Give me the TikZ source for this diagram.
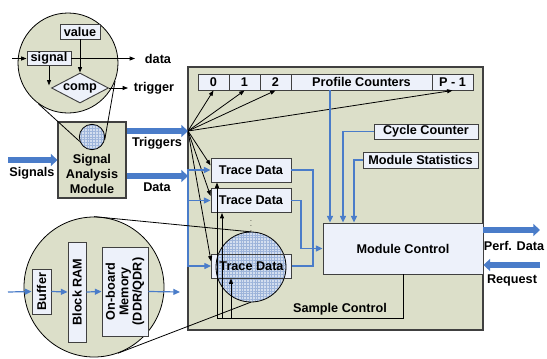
\documentclass[tikz,border=0pt]{standalone}
\usepackage{fontspec}
\setmainfont{Liberation Sans}
\usetikzlibrary{arrows.meta,shapes.geometric,patterns.meta}
\definecolor{PanelOlive}{HTML}{DCDFC9}
\definecolor{CellFill}{HTML}{EDF1FA}
\definecolor{LinkBlue}{HTML}{4A7CC9}
\definecolor{EdgeGray}{HTML}{404040}
\definecolor{MeshBlue}{HTML}{D3DEEF}
\definecolor{GridBlue}{HTML}{9DB4DA}
\tikzset{
  panel/.style={draw=EdgeGray, fill=PanelOlive, line width=0.8pt, inner sep=0pt},
  cell/.style={draw=EdgeGray, fill=CellFill, line width=0.7pt, inner sep=0.5pt},
  lens/.style={circle, draw=black, fill=PanelOlive, line width=0.6pt, inner sep=0pt},
  mesh/.style={circle, draw=black, line width=0.6pt, inner sep=0pt,
    preaction={fill=MeshBlue},
    pattern={Hatch[distance=2.1pt, line width=0.2pt]}, pattern color=GridBlue},
  bus/.style={line width=4.5pt, draw=LinkBlue, -{Triangle[length=5pt, width=9pt]}},
  link/.style={line width=0.9pt, draw=LinkBlue},
  wire/.style={link, -{Triangle[length=5pt, width=4.5pt]}},
  tick/.style={line width=0.6pt, -{Triangle[length=4pt, width=3pt]}}
}

\begin{document}
\begin{tikzpicture}[x=0.75pt, y=-0.75pt, font=\fontsize{9.5}{11}\selectfont\bfseries]
\useasboundingbox (0,0) rectangle (547,358);

\node[panel, minimum width=221.25pt, minimum height=197.25pt] (board) at (335.5,198.5) {};

\node[cell, minimum width=23.25pt, minimum height=12pt] (c0) at (213.5,82) {0};
\node[cell, minimum width=23.25pt, minimum height=12pt] (c1) at (244.5,82) {1};
\node[cell, minimum width=23.25pt, minimum height=12pt] (c2) at (275.5,82) {2};
\node[cell, minimum width=105.75pt, minimum height=12pt] (cname) at (361.5,82) {Profile Counters};
\node[cell, minimum width=30.75pt, minimum height=12pt] (cp) at (452.5,82) {P - 1};

\node[cell, minimum width=78pt, minimum height=11.25pt] (cyc) at (426,131.5) {Cycle Counter};
\node[cell, minimum width=86.25pt, minimum height=12pt] (mstat) at (420.5,160) {Module Statistics};
\node[cell, minimum width=120pt, minimum height=38.25pt] (mctl) at (403,248.5) {Module Control};

\node[cell, minimum width=60pt, minimum height=18pt] (td1) at (251,170) {Trace Data};
\node[cell, minimum width=60pt, minimum height=18pt] (td2) at (251,200.5) {Trace Data};
\node[cell, draw=none, minimum width=60pt, minimum height=18pt] (td3bg) at (251.5,266) {};
\node[mesh, minimum size=52.5pt] (zoomc) at (251,267) {};
\node[cell, fill=none, minimum width=60pt, minimum height=18pt] (td3) at (251.5,266) {Trace Data};
\node[font=\fontsize{5}{5}\selectfont, inner sep=0pt] (gap) at (251,222) {$\vdots$};

\coordinate (fan) at (188,131);
\coordinate (din) at (188,176);
\foreach \t in {c0,c1,c2,cp}
  \draw[tick] (fan) -- (\t.south);
\foreach \t in {td1,td2,td3}
  \draw[tick] (fan) -- ([yshift=3.5pt]\t.west);
\foreach \t in {td1,td2,td3}
  \draw[wire] (din) |- (\t.west);

\coordinate (j1) at (313,248.5);
\coordinate (j2) at (301,248.5);
\draw[link] (td1.east) -| (j1);
\draw[link] (td3.east) -| (j1);
\draw[wire] (td2.east) -| (j2) -- (mctl.west);

\draw[wire] ([xshift=-54.75pt]mctl.north |- cname.south) -- ([xshift=-54.75pt]mctl.north);
\draw[wire] (cyc.west) -| ([xshift=-45pt]mctl.north);
\draw[wire] (mstat.west) -| ([xshift=-36.75pt]mctl.north);

\coordinate (perf) at (540,230);
\coordinate (req) at (540,265);
\draw[bus] (perf -| mctl.east) -- (perf);
\draw[bus] (req) -- (req -| mctl.east);
\node (perflbl) at (514,246) {Perf. Data};
\node (reqlbl) at (512,280) {Request};

\coordinate (sc1) at (217,318);
\coordinate (sc2) at (222,318);
\coordinate (sc3) at (231,318);
\draw[tick] (mctl.south) |- (sc1) -- (sc1 |- td1.south);
\draw[tick] (sc2) -- (sc2 |- td2.south);
\draw[tick] (sc3) -- (sc3 |- td3.south);
\node (sclbl) at (340,309) {Sample Control};

\node[panel, minimum width=51pt, minimum height=57pt] (sam) at (92,160) {};
\node[align=center] (samlbl) at (92,174) {Signal\\Analysis\\Module};
\node[mesh, minimum size=19pt] (probe) at (92,137) {};

\coordinate (sin) at (8,160);
\draw[bus] (sin) -- (sam.west);
\draw[bus] ([yshift=21.75pt]sam.east) -- (fan);
\draw[bus] ([yshift=-12pt]sam.east) -- (din);
\node (sinlbl) at (32,173) {Signals};
\node (trglbl) at (157,143) {Triggers};
\node (datlbl) at (157,187) {Data};

\node[lens, minimum size=75pt] (upper) at (68,63) {};
\node[cell, minimum width=30pt, minimum height=11.25pt] (val) at (80,31.5) {value};
\node[cell, minimum width=33pt, minimum height=10pt] (sig) at (49,58.5) {signal};
\node[diamond, aspect=2, draw=EdgeGray, fill=CellFill, line width=0.7pt, inner sep=0pt,
      minimum width=42.75pt, minimum height=22.5pt] (comp) at (80,88) {comp};
\coordinate (sigin) at (12,58.5);
\coordinate (datout) at (135,58.5);
\coordinate (trgout) at (128,88);
\draw[tick] (sigin) -- (sig.west);
\draw[tick] (sig.east) -- (datout);
\draw[tick] (val.south) -- (comp.north);
\draw[tick] (sig.south) -- ([yshift=2pt]sig.south |- comp.west);
\draw[tick] (comp.east) -- (trgout);
\node (datword) at (158,59) {data};
\node (trgword) at (154,88) {trigger};
\draw[line width=0.6pt] (upper.234) -- (probe.200);
\draw[line width=0.6pt] (upper.-21) -- (probe.-14);

\node[lens, minimum size=105pt] (lower) at (94,287) {};
\node[cell, rotate=90, minimum width=33.75pt, minimum height=14.25pt] (buf) at (41.5,291.5) {Buffer};
\node[cell, rotate=90, minimum width=75pt, minimum height=13.5pt] (bram) at (77,292) {Block RAM};
\node[cell, rotate=90, align=center, minimum width=66.75pt, minimum height=34.5pt,
      font=\fontsize{9.5}{10}\selectfont\bfseries] (obm) at (125,291.5) {On-board\\Memory\\(DDR/QDR)};
\coordinate (memin) at (8,292);
\coordinate (memout) at (180,292);
\draw[wire] (memin) -- (buf.north);
\draw[wire] (buf.south) -- (bram.north);
\draw[wire] (bram.south) -- (obm.north);
\draw[wire] (obm.south) -- (memout);
\draw[line width=0.6pt] (lower.north) -- (zoomc.north);
\draw[line width=0.6pt] (lower.-70) -- (zoomc.south);
\end{tikzpicture}
\end{document}
